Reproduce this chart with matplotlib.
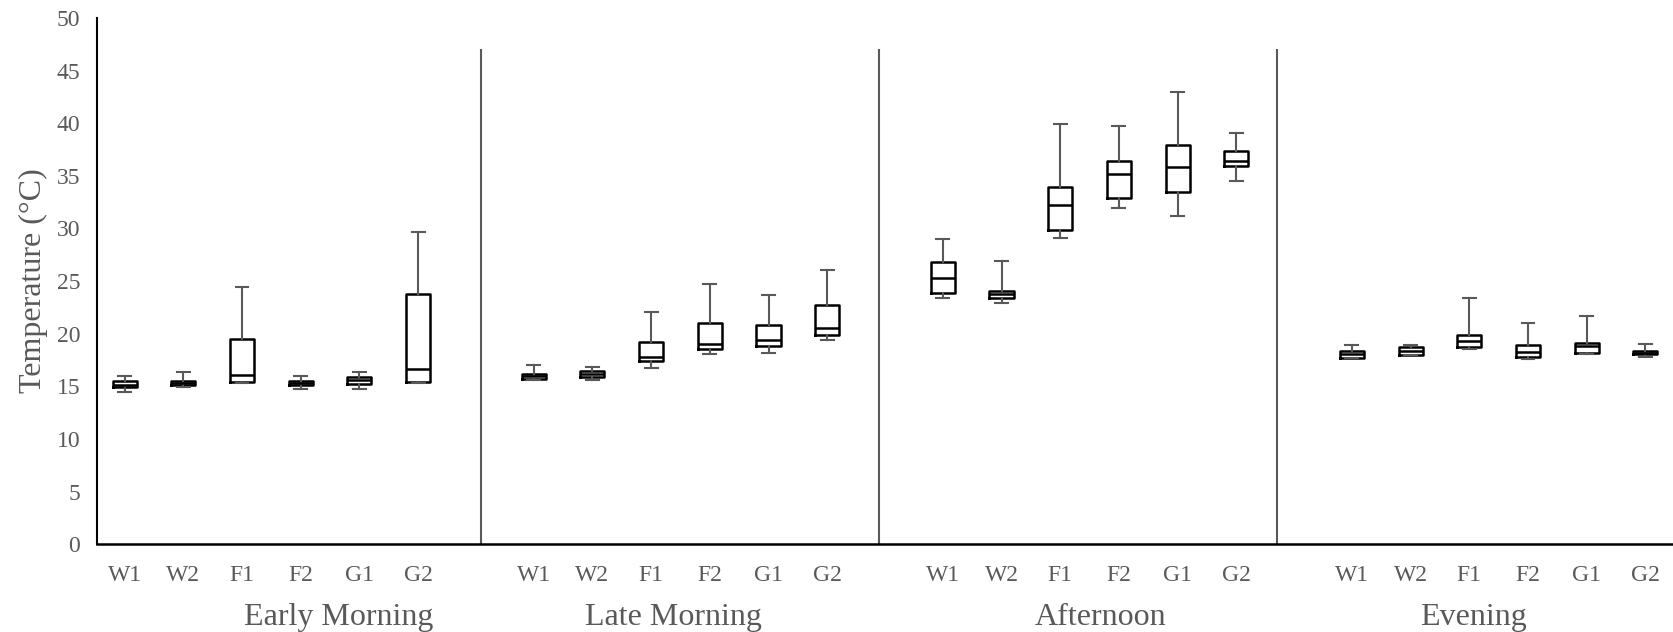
import matplotlib
matplotlib.use("Agg")
import matplotlib.pyplot as plt
import numpy as np

plt.rcParams['font.family'] = ['Liberation Serif', 'DejaVu Serif']

periods = ["Early Morning", "Late Morning", "Afternoon", "Evening"]
sites = ["W1", "W2", "F1", "F2", "G1", "G2"]

# five-number summaries per period, in site order W1..G2
whis_lo = [
    [14.5, 14.9, 15.3, 14.7, 14.7, 15.3],
    [15.6, 15.6, 16.7, 18.1, 18.2, 19.4],
    [23.4, 22.9, 29.1, 31.9, 31.2, 34.5],
    [17.7, 18.0, 18.5, 17.6, 18.1, 17.8],
]
q1 = [
    [14.9, 15.1, 15.4, 15.1, 15.2, 15.4],
    [15.7, 15.9, 17.4, 18.5, 18.8, 19.9],
    [23.9, 23.4, 29.9, 32.9, 33.5, 35.9],
    [17.7, 18.0, 18.7, 17.8, 18.2, 18.1],
]
median = [
    [15.1, 15.3, 16.1, 15.3, 15.6, 16.6],
    [16.0, 16.2, 17.8, 19.0, 19.4, 20.5],
    [25.3, 23.8, 32.2, 35.2, 35.8, 36.4],
    [18.1, 18.4, 19.3, 18.3, 18.8, 18.2],
]
q3 = [
    [15.5, 15.5, 19.5, 15.5, 15.9, 23.8],
    [16.2, 16.5, 19.2, 21.0, 20.8, 22.7],
    [26.8, 24.1, 33.9, 36.4, 37.9, 37.4],
    [18.4, 18.7, 19.9, 18.9, 19.1, 18.4],
]
whis_hi = [
    [16.0, 16.4, 24.4, 16.0, 16.4, 29.7],
    [17.0, 16.8, 22.1, 24.7, 23.7, 26.1],
    [29.0, 26.9, 39.9, 39.7, 43.0, 39.1],
    [18.9, 18.9, 23.4, 21.0, 21.7, 19.0],
]

grey = "#595959"

fig = plt.figure(figsize=(16.73, 6.32), dpi=100)
ax = fig.add_axes([0.058, 0.139, 0.942, 0.8325])

stats = []
positions = []
for g in range(len(periods)):
    for i in range(len(sites)):
        stats.append(dict(whislo=whis_lo[g][i], q1=q1[g][i], med=median[g][i],
                          q3=q3[g][i], whishi=whis_hi[g][i], fliers=[]))
        positions.append(0.47 + 6.97 * g + i)

ax.bxp(stats, positions=positions, widths=0.41, showfliers=False,
       boxprops=dict(color="black", linewidth=1.8),
       medianprops=dict(color="black", linewidth=1.8),
       whiskerprops=dict(color=grey, linewidth=1.5),
       capprops=dict(color=grey, linewidth=1.5),
       capwidths=0.22, manage_ticks=False)

# group separators
for xs in [6.55, 13.33, 20.11]:
    ax.axvline(xs, ymin=0, ymax=47 / 50, color=grey, linewidth=1.5)

ax.set_xlim(0, 26.85)
ax.set_ylim(0, 50)
ax.set_yticks(np.arange(0, 51, 5))
ax.set_xticks(positions)
ax.set_xticklabels(sites * len(periods))
ax.tick_params(axis="both", length=0, labelsize=17, labelcolor=grey)
ax.tick_params(axis="x", pad=15)
ax.tick_params(axis="y", pad=12)

for side in ["top", "right"]:
    ax.spines[side].set_visible(False)
ax.spines["left"].set_color("black")
ax.spines["left"].set_linewidth(1.5)
ax.spines["bottom"].set_color("black")
ax.spines["bottom"].set_linewidth(1.8)

ax.set_ylabel("Temperature (°C)", fontsize=23, color=grey, labelpad=6)

for label, xc in zip(periods, [4.11, 9.82, 17.09, 23.45]):
    ax.text(xc, -0.14, label, transform=ax.get_xaxis_transform(),
            ha="center", va="center", fontsize=23, color=grey)

fig.savefig("out.png", dpi=100)
